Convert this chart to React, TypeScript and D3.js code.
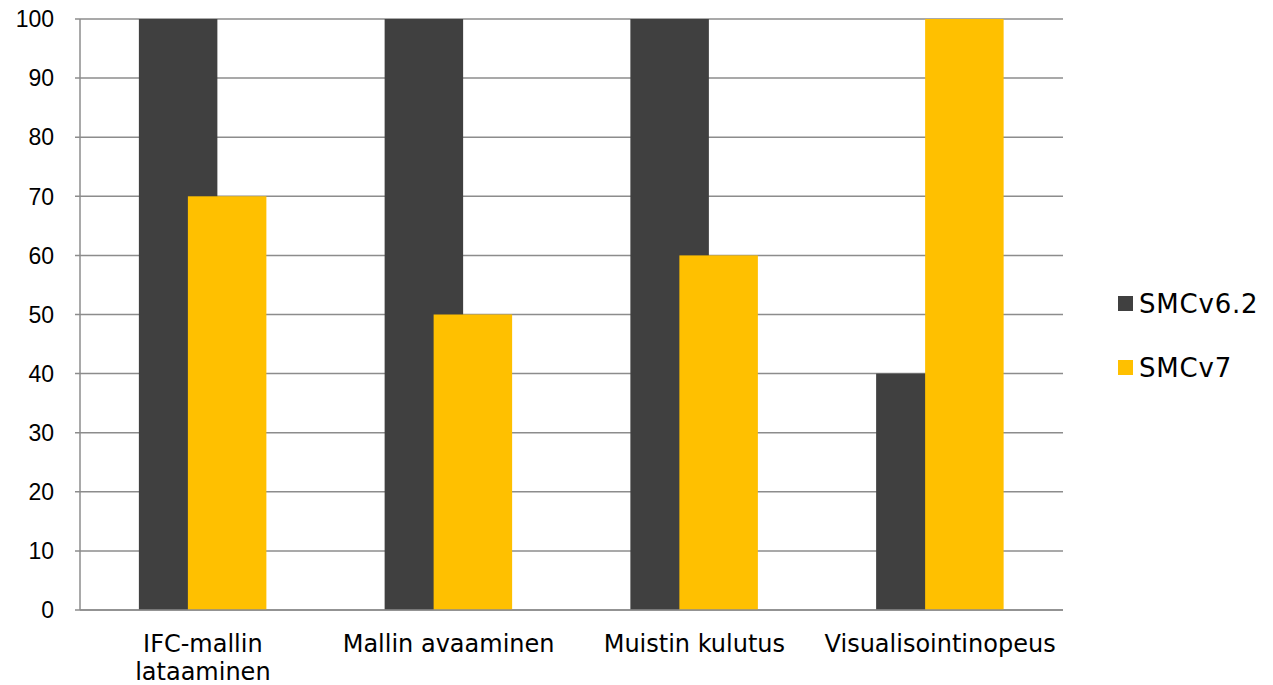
import React from "react";
import * as d3 from "d3";

const categories: string[][] = [
  ["IFC-mallin", "lataaminen"],
  ["Mallin avaaminen"],
  ["Muistin kulutus"],
  ["Visualisointinopeus"],
];
const seriesNames = ["SMCv6.2", "SMCv7"];
const smcv62 = [100, 100, 100, 40];
const smcv7 = [70, 50, 60, 100];
const yTicks = [0, 10, 20, 30, 40, 50, 60, 70, 80, 90, 100];
const colors = ["#404040", "#FFC000"];

export default function App() {
  const W = 1273, H = 685;
  const left = 80, right = 1063, top = 19, bottom = 610;
  const x = d3.scaleBand<number>().domain(d3.range(categories.length)).range([left, right]);
  const y = d3.scaleLinear().domain([0, 100]).range([bottom, top]);
  const font = "Verdana, 'DejaVu Sans', sans-serif";
  const tickFont = "'Liberation Sans', Arial, sans-serif";
  const barW = 78.5;
  const series = [smcv62, smcv7];
  const offsets = [-64, -15];
  return (
    <svg width={W} height={H} style={{ position: "absolute", left: 0, top: 0, background: "#fff" }}>
      {yTicks.map((t) => (
        <g key={t}>
          <line x1={left - 5} x2={right} y1={y(t)} y2={y(t)} stroke="#8c8c8c" strokeWidth={1.5} />
          <text x={54} y={y(t)} dy="0.36em" textAnchor="end" fontFamily={tickFont} fontSize={23} fill="#000">
            {t}
          </text>
        </g>
      ))}
      <line x1={left} x2={left} y1={top} y2={bottom} stroke="#8c8c8c" strokeWidth={1.5} />
      {series.map((vals, si) =>
        vals.map((v, i) => {
          const cx = (x(i) as number) + x.bandwidth() / 2;
          return (
            <rect
              key={si + "-" + i}
              x={cx + offsets[si]}
              y={y(v)}
              width={barW}
              height={bottom - y(v)}
              fill={colors[si]}
            />
          );
        })
      )}
      <line x1={left} x2={right} y1={bottom} y2={bottom} stroke="#8c8c8c" strokeWidth={1.5} />
      {categories.map((lines, i) => {
        const cx = (x(i) as number) + x.bandwidth() / 2;
        return (
          <text key={i} textAnchor="middle" fontFamily={font} fontSize={24} fill="#000">
            {lines.map((l, j) => (
              <tspan key={j} x={cx} y={652 + j * 28}>
                {l}
              </tspan>
            ))}
          </text>
        );
      })}
      {seriesNames.map((n, i) => (
        <g key={n}>
          <rect x={1118} y={296 + i * 64} width={15} height={15} fill={colors[i]} />
          <text x={1139} y={313 + i * 64} fontFamily={font} fontSize={26} letterSpacing={0.8} fill="#000">
            {n}
          </text>
        </g>
      ))}
    </svg>
  );
}
